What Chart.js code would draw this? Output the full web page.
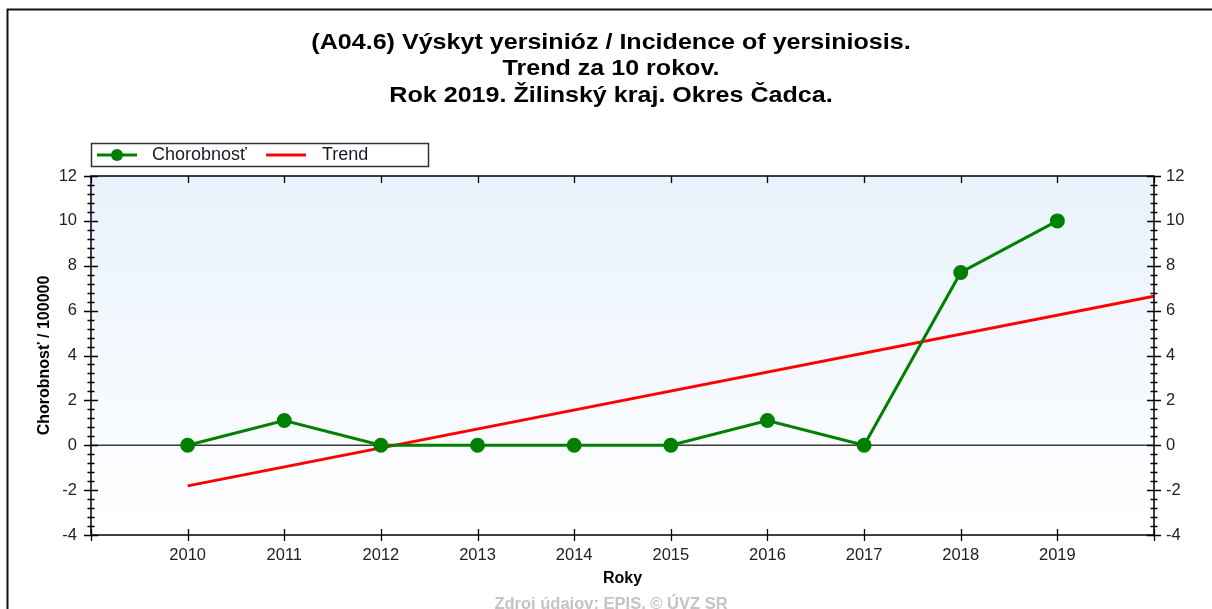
<!DOCTYPE html>
<html>
<head>
<meta charset="utf-8">
<script src="https://cdn.jsdelivr.net/npm/chart.js@4"></script>
<style>
  html, body { margin: 0; padding: 0; background: #fff; }
  #wrap { width: 1212px; height: 609px; position: relative; }
</style>
</head>
<body>
<div id="wrap"><canvas id="c" width="1212" height="609"></canvas></div>
<script>
// ---- data ----
const titleLines = [
  '(A04.6) Výskyt yersinióz / Incidence of yersiniosis.',
  'Trend za 10 rokov.',
  'Rok 2019. Žilinský kraj. Okres Čadca.'
];
const years = [2010, 2011, 2012, 2013, 2014, 2015, 2016, 2017, 2018, 2019];
const incidence = [0, 1.1, 0, 0, 0, 0, 1.1, 0, 7.7, 10.0];
const trendYears = [2010, 2020];
const trendValues = [-1.81, 6.64];
const yTickValues = [-4, -2, 0, 2, 4, 6, 8, 10, 12];
const seriesLabels = ['Chorobnosť', 'Trend'];
const xTitle = 'Roky';
const yTitle = 'Chorobnosť / 100000';
const sourceText = 'Zdroj údajov: EPIS, © ÚVZ SR';

const GREEN = '#008000';
const RED = '#ff0000';
const FONT = "'Liberation Sans', Arial, sans-serif";

const decor = {
  id: 'decor',
  beforeDraw(chart) {
    const { ctx, chartArea: a } = chart;
    ctx.save();
    ctx.fillStyle = '#ffffff';
    ctx.fillRect(0, 0, chart.width, chart.height);
    const g = ctx.createLinearGradient(0, a.top, 0, a.bottom);
    g.addColorStop(0, '#e8f2fc');
    g.addColorStop(1, '#ffffff');
    ctx.fillStyle = g;
    ctx.fillRect(a.left, a.top, a.right - a.left, a.bottom - a.top);
    ctx.restore();
  },
  beforeDatasetsDraw(chart) {
    const { ctx, chartArea: a } = chart;
    const y0 = chart.scales.y.getPixelForValue(0);
    ctx.save();
    ctx.strokeStyle = '#3a3a3a';
    ctx.lineWidth = 1.6;
    ctx.beginPath();
    ctx.moveTo(a.left, y0);
    ctx.lineTo(a.right, y0);
    ctx.stroke();
    ctx.restore();
  },
  afterDraw(chart) {
    const { ctx, chartArea: a } = chart;
    const ys = chart.scales.y, xs = chart.scales.x;
    ctx.save();
    // outer frame
    ctx.strokeStyle = '#111';
    ctx.lineWidth = 2;
    ctx.beginPath();
    ctx.moveTo(7.5, chart.height);
    ctx.lineTo(7.5, 9.5);
    ctx.lineTo(chart.width, 9.5);
    ctx.stroke();

    // title
    ctx.fillStyle = '#000';
    ctx.font = 'bold 22px ' + FONT;
    ctx.textAlign = 'center';
    ctx.textBaseline = 'middle';
    const titleY = [43, 69, 96];
    titleLines.forEach((t, i) => {
      ctx.save();
      ctx.translate(611, titleY[i]);
      ctx.scale(1.14, 1);
      ctx.fillText(t, 0, 0);
      ctx.restore();
    });

    // plot border
    ctx.strokeStyle = '#000';
    ctx.lineWidth = 1.5;
    ctx.strokeRect(a.left, a.top, a.right - a.left, a.bottom - a.top);

    // y ticks (both sides)
    ctx.lineWidth = 1.3;
    ctx.beginPath();
    for (let i = 0; i <= 40; i++) {
      const v = ys.min + i * 0.4;
      const py = Math.round(ys.getPixelForValue(v)) + 0.5;
      const major = (i % 5 === 0);
      const L = major ? 7 : 3.5;
      ctx.moveTo(a.left - L, py); ctx.lineTo(a.left + L, py);
      ctx.moveTo(a.right - L, py); ctx.lineTo(a.right + L, py);
    }
    // x ticks
    for (let v = xs.min; v <= xs.max; v++) {
      const px = Math.round(xs.getPixelForValue(v)) + 0.5;
      ctx.moveTo(px, a.bottom - 6); ctx.lineTo(px, a.bottom + 6);
      ctx.moveTo(px, a.top); ctx.lineTo(px, a.top + 7);
    }
    ctx.stroke();

    // legend
    const lx = 91, ly = 143, lw = 337, lh = 23;
    ctx.fillStyle = '#fff';
    ctx.fillRect(lx, ly, lw, lh);
    ctx.strokeStyle = '#333';
    ctx.lineWidth = 1.5;
    ctx.strokeRect(lx + 0.5, ly + 0.5, lw, lh);
    const cy = ly + lh / 2 + 0.5;
    const ds = chart.data.datasets;
    ctx.strokeStyle = ds[0].borderColor; ctx.lineWidth = 3;
    ctx.beginPath(); ctx.moveTo(97, cy); ctx.lineTo(137, cy); ctx.stroke();
    ctx.fillStyle = ds[0].pointBackgroundColor;
    ctx.beginPath(); ctx.arc(117, cy, 6, 0, Math.PI * 2); ctx.fill();
    ctx.strokeStyle = ds[1].borderColor; ctx.lineWidth = 3;
    ctx.beginPath(); ctx.moveTo(266, cy); ctx.lineTo(306, cy); ctx.stroke();
    ctx.fillStyle = '#1a1a2a';
    ctx.font = '18px ' + FONT;
    ctx.textBaseline = 'middle';
    ctx.textAlign = 'left';
    ctx.fillText(ds[0].label, 152, cy);
    ctx.fillText(ds[1].label, 322, cy);

    // source text
    ctx.fillStyle = '#c4c4c4';
    ctx.font = 'bold 16.5px ' + FONT;
    ctx.textAlign = 'center';
    ctx.fillText(sourceText, 611, 604);
    ctx.restore();
  }
};

const chart = new Chart(document.getElementById('c'), {
  type: 'line',
  data: {
    datasets: [
      {
        label: seriesLabels[0],
        data: years.map((y, i) => ({ x: y, y: incidence[i] })),
        borderColor: GREEN,
        backgroundColor: GREEN,
        pointBackgroundColor: GREEN,
        pointBorderColor: GREEN,
        borderWidth: 3,
        pointRadius: 6,
        tension: 0,
        yAxisID: 'y'
      },
      {
        label: seriesLabels[1],
        data: trendYears.map((y, i) => ({ x: y, y: trendValues[i] })),
        borderColor: RED,
        backgroundColor: RED,
        pointBackgroundColor: RED,
        borderWidth: 3,
        pointRadius: 0,
        tension: 0,
        yAxisID: 'y'
      }
    ]
  },
  options: {
    responsive: false,
    animation: false,
    events: [],
    layout: { padding: { left: 10, right: 0, top: 176, bottom: 0 } },
    plugins: {
      legend: { display: false },
      tooltip: { enabled: false },
      title: { display: false }
    },
    scales: {
      x: {
        type: 'linear',
        position: 'bottom',
        min: 2009,
        max: 2020,
        grid: { display: false, drawTicks: false },
        border: { display: false },
        ticks: {
          stepSize: 1,
          autoSkip: false,
          maxRotation: 0,
          padding: 11,
          color: '#222',
          font: { family: FONT, size: 16.5 },
          callback: (v) => years.includes(v) ? String(v) : ''
        },
        title: {
          display: true,
          text: xTitle,
          color: '#000',
          font: { family: FONT, size: 16, weight: 'bold' },
          padding: { top: 0, bottom: 21 }
        },
        afterFit: (s) => { s.height = 74; }
      },
      y: {
        position: 'left',
        min: -4,
        max: 12,
        afterBuildTicks: (s) => { s.ticks = yTickValues.map(v => ({ value: v })); },
        grid: { display: false, drawTicks: false },
        border: { display: false },
        ticks: {
          padding: 14,
          color: '#222',
          font: { family: FONT, size: 16.5 }
        },
        title: {
          display: true,
          text: yTitle,
          color: '#000',
          font: { family: FONT, size: 16, weight: 'bold' },
          padding: { top: 25, bottom: 0 }
        },
        afterFit: (s) => { s.width = 81; }
      },
      y2: {
        position: 'right',
        min: -4,
        max: 12,
        afterBuildTicks: (s) => { s.ticks = yTickValues.map(v => ({ value: v })); },
        grid: { display: false, drawTicks: false },
        border: { display: false },
        ticks: {
          padding: 12,
          color: '#222',
          font: { family: FONT, size: 16.5 }
        },
        afterFit: (s) => { s.width = 58; }
      }
    }
  },
  plugins: [decor]
});
</script>
</body>
</html>
